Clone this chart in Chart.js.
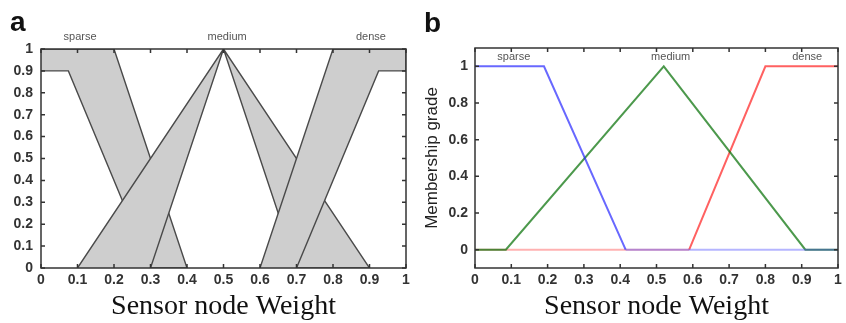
<!DOCTYPE html>
<html>
<head>
<meta charset="utf-8">
<script src="https://cdn.jsdelivr.net/npm/chart.js@4.4.1/dist/chart.umd.min.js"></script>
<style>
  html, body { margin: 0; padding: 0; background: #fff; }
  #wrap { position: relative; width: 846px; height: 323px; overflow: hidden; }
  .box { position: absolute; top: 0; height: 323px; }
  .tag { position: absolute; font: bold 28px Arial, 'Liberation Sans', sans-serif; line-height: 1; color: #111; }
</style>
</head>
<body>
<div id="wrap">
  <div class="box" style="left:0;width:420px"><canvas id="chartA" width="420" height="323"></canvas></div>
  <div class="box" style="left:420px;width:426px"><canvas id="chartB" width="426" height="323"></canvas></div>
  <div class="tag" style="left:10px;top:8px">a</div>
  <div class="tag" style="left:424px;top:9px">b</div>
</div>
<script>
// ===== data =====
const mfNames = ['sparse', 'medium', 'dense']

// panel a: upper / lower membership functions (interval type-2)
const sparseUpX = [0, 0.2, 0.4],   sparseUpY = [1, 1, 0]
const sparseLoX = [0, 0.075, 0.3], sparseLoY = [0.9, 0.9, 0]
const mediumUpX = [0.1, 0.5, 0.9], mediumUpY = [0, 1, 0]
const mediumLoX = [0.3, 0.5, 0.7], mediumLoY = [0, 1, 0]
const denseUpX = [0.6, 0.8, 1],    denseUpY = [0, 1, 1]
const denseLoX = [0.7, 0.925, 1],  denseLoY = [0, 0.9, 0.9]

// panel b: type-1 membership functions
const sparseX = [0, 0.19, 0.415, 1],       sparseY = [1, 1, 0, 0]
const mediumX = [0, 0.085, 0.52, 0.91, 1], mediumY = [0, 0, 1, 0, 0]
const denseX = [0, 0.59, 0.8, 1],          denseY = [0, 0, 1, 1]

// tick labels
const xTicks = [0, 0.1, 0.2, 0.3, 0.4, 0.5, 0.6, 0.7, 0.8, 0.9, 1]
const yTicksA = [0, 0.1, 0.2, 0.3, 0.4, 0.5, 0.6, 0.7, 0.8, 0.9, 1]
const yTicksB = [0, 0.2, 0.4, 0.6, 0.8, 1]

const xTitle = 'Sensor node Weight'
const yTitleB = 'Membership grade'

// ===== helpers =====
const toPts = (xs, ys) => xs.map((x, i) => ({ x: x, y: ys[i] }))

// closed shape: upper curve, then lower curve walked backwards
function band(upX, upY, loX, loY) {
    const pts = toPts(upX, upY)
    for (let i = loX.length - 1; i >= 0; i--) pts.push({ x: loX[i], y: loY[i] })
    return pts
}

const tickFont = { family: 'Arial, "Liberation Sans", sans-serif', size: 14, weight: 'bold' }
const titleFont = { family: '"Times New Roman", "Liberation Serif", serif', size: 28 }

// frame with inward ticks + set names, MATLAB style
const framePlugin = {
    id: 'frame',
    afterDatasetsDraw(chart, args, opts) {
        const { ctx, chartArea, scales } = chart
        const { left, right, top, bottom } = chartArea
        ctx.save()
        ctx.strokeStyle = '#333'
        ctx.lineWidth = 1.5
        ctx.strokeRect(left, top, right - left, bottom - top)
        ctx.beginPath()
        const t = 4
        scales.x.ticks.forEach(tk => {
            const px = scales.x.getPixelForValue(tk.value)
            ctx.moveTo(px, bottom); ctx.lineTo(px, bottom - t)
            ctx.moveTo(px, top); ctx.lineTo(px, top + t)
        })
        scales.y.ticks.forEach(tk => {
            const py = scales.y.getPixelForValue(tk.value)
            ctx.moveTo(left, py); ctx.lineTo(left + t, py)
            ctx.moveTo(right, py); ctx.lineTo(right - t, py)
        })
        ctx.stroke()

        // names of the sets
        ctx.fillStyle = '#555'
        ctx.font = '11px Arial, "Liberation Sans", sans-serif'
        ctx.textAlign = 'center'
        ctx.textBaseline = 'middle'
        mfNames.forEach((n, i) => {
            ctx.fillText(n, scales.x.getPixelForValue(opts.nameX[i]), scales.y.getPixelForValue(opts.nameY))
        })
        ctx.restore()
    }
}

function xScale() {
    return {
        type: 'linear', min: 0, max: 1,
        afterBuildTicks: s => { s.ticks = xTicks.map(v => ({ value: v })) },
        afterFit: s => { s.height = 55 },
        grid: { display: false, drawTicks: false },
        border: { display: false },
        ticks: { font: tickFont, color: '#333', padding: 4, maxRotation: 0, autoSkip: false, callback: v => v },
        title: { display: true, text: xTitle, font: titleFont, color: '#111', padding: { top: 0, bottom: 0 } }
    }
}

// ===== panel a =====
const lineGrey = '#4a4a4a', fillGrey = '#cecece'
const bandStyle = { borderColor: lineGrey, backgroundColor: fillGrey, borderWidth: 1.4, pointRadius: 0, fill: 'shape', tension: 0 }

new Chart(document.getElementById('chartA'), {
    type: 'line',
    data: {
        datasets: [
            { label: mfNames[0], data: band(sparseUpX, sparseUpY, sparseLoX, sparseLoY), order: 3, ...bandStyle },
            { label: mfNames[1], data: band(mediumUpX, mediumUpY, mediumLoX, mediumLoY), order: 2, ...bandStyle },
            { label: mfNames[2], data: band(denseUpX, denseUpY, denseLoX, denseLoY), order: 1, ...bandStyle }
        ]
    },
    options: {
        responsive: false,
        animation: false,
        layout: { padding: { top: 49, right: 14, left: 0, bottom: 0 } },
        plugins: {
            legend: { display: false },
            tooltip: { enabled: false },
            frame: { nameX: [0.107, 0.51, 0.904], nameY: 1.055 }
        },
        scales: {
            x: xScale(),
            y: {
                type: 'linear', min: 0, max: 1,
                afterBuildTicks: s => { s.ticks = yTicksA.map(v => ({ value: v })) },
                afterFit: s => { s.width = 41 },
                grid: { display: false, drawTicks: false },
                border: { display: false },
                ticks: { font: tickFont, color: '#333', padding: 8, callback: v => v },
            }
        }
    },
    plugins: [framePlugin]
})

// ===== panel b =====
const lineStyle = { borderWidth: 2, pointRadius: 0, fill: false, tension: 0 }

// the flat parts lying on zero come out paler in the original
const paleOnZero = (strong, pale) => ({
    borderColor: strong,
    segment: { borderColor: c => (c.p0.parsed.y === 0 && c.p1.parsed.y === 0) ? pale : undefined }
})

new Chart(document.getElementById('chartB'), {
    type: 'line',
    data: {
        datasets: [
            { label: mfNames[0], data: toPts(sparseX, sparseY), ...paleOnZero('rgba(40,40,255,0.7)', 'rgba(60,60,255,0.38)'), ...lineStyle },
            { label: mfNames[1], data: toPts(mediumX, mediumY), borderColor: 'rgba(0,110,0,0.7)', ...lineStyle },
            { label: mfNames[2], data: toPts(denseX, denseY), ...paleOnZero('rgba(255,30,30,0.7)', 'rgba(255,60,60,0.4)'), ...lineStyle }
        ]
    },
    options: {
        responsive: false,
        animation: false,
        layout: { padding: { top: 48, right: 8, left: 0, bottom: 0 } },
        plugins: {
            legend: { display: false },
            tooltip: { enabled: false },
            frame: { nameX: [0.107, 0.539, 0.915], nameY: 1.05 }
        },
        scales: {
            x: xScale(),
            y: {
                type: 'linear', min: -0.1, max: 1.1,
                afterBuildTicks: s => { s.ticks = yTicksB.map(v => ({ value: v })) },
                afterFit: s => { s.width = 55 },
                grid: { display: false, drawTicks: false },
                border: { display: false },
                ticks: { font: tickFont, color: '#333', padding: 7, callback: v => v },
                title: { display: true, text: yTitleB, font: { family: 'Arial, "Liberation Sans", sans-serif', size: 17 }, color: '#222', padding: { top: 2, bottom: 0 } }
            }
        }
    },
    plugins: [framePlugin]
})
</script>
</body>
</html>
